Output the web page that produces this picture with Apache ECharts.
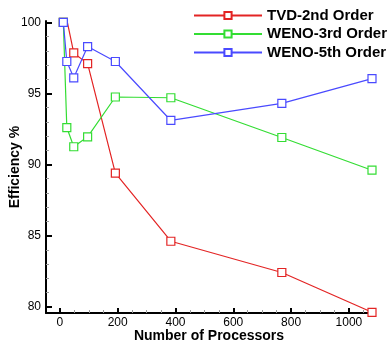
<!DOCTYPE html>
<html><head><meta charset="utf-8">
<script src="https://cdn.jsdelivr.net/npm/echarts@6/dist/echarts.min.js"></script>
<style>html,body{margin:0;padding:0;background:#fff}#c{width:392px;height:341px}</style>
</head><body><div id="c"></div>
<script>
const processors = [12, 24, 48, 96, 192, 384, 768, 1080];
const tvd2 = [100, 100.2, 97.85, 97.1, 89.4, 84.6, 82.4, 79.6];
const weno3 = [100, 92.6, 91.25, 91.95, 94.75, 94.7, 91.9, 89.6];
const weno5 = [100, 97.25, 96.1, 98.3, 97.25, 93.1, 94.3, 96.05];
const seriesNames = ['TVD-2nd Order', 'WENO-3rd Order', 'WENO-5th Order'];
const xMajor = [0, 200, 400, 600, 800, 1000];
const xMinor = [50, 100, 150, 250, 300, 350, 450, 500, 550, 650, 700, 750, 850, 900, 950, 1050];
const yMajor = [80, 85, 90, 95, 100];
const yMinor = [81, 82, 83, 84, 86, 87, 88, 89, 91, 92, 93, 94, 96, 97, 98, 99];
const colors = ['#e32424', '#33dd33', '#4a4aff'];
const font = 'Liberation Sans, Arial, sans-serif';

const chart = echarts.init(document.getElementById('c'), null, {renderer: 'canvas'});
const values = [tvd2, weno3, weno5];
const axisLine = {show: true, onZero: false, lineStyle: {color: '#000', width: 2}};
const xBase = {type: 'value', min: -48, max: 1080, splitLine: {show: false}};
const yBase = {type: 'value', min: 79.55, max: 100.1, splitLine: {show: false}};
const labelFmt = v => String(v);
chart.setOption({
  animation: false,
  grid: {left: 46, right: 20, top: 21, bottom: 28, outerBoundsMode: 'none'},
  legend: {
    data: seriesNames, orient: 'vertical', left: 188, top: 3, itemGap: 3.5,
    itemWidth: 68, itemHeight: 9,
    textStyle: {fontFamily: font, fontWeight: 'bold', fontSize: 15, color: '#000'}
  },
  xAxis: [
    Object.assign({}, xBase, {
      axisLine: axisLine,
      name: 'Number of Processors', nameLocation: 'middle', nameGap: 16, nameMoveOverlap: false,
      nameTextStyle: {fontFamily: font, fontWeight: 'bold', fontSize: 14, color: '#000'},
      axisTick: {show: true, inside: true, length: 5, lineStyle: {color: '#000', width: 2}, customValues: xMajor},
      axisLabel: {show: true, margin: 4, fontFamily: font, fontSize: 12, color: '#000', customValues: xMajor, formatter: labelFmt}
    }),
    Object.assign({}, xBase, {
      position: 'bottom', axisLine: {show: false, onZero: false},
      axisTick: {show: true, inside: true, length: 3, lineStyle: {color: '#999', width: 1}, customValues: xMinor},
      axisLabel: {show: false}
    })
  ],
  yAxis: [
    Object.assign({}, yBase, {
      axisLine: axisLine,
      name: 'Efficiency %', nameLocation: 'middle', nameGap: 24, nameRotate: 90, nameMoveOverlap: false,
      nameTextStyle: {fontFamily: font, fontWeight: 'bold', fontSize: 14, color: '#000'},
      axisTick: {show: true, inside: true, length: 6, lineStyle: {color: '#000', width: 2}, customValues: yMajor},
      axisLabel: {show: true, margin: 5, fontFamily: font, fontSize: 12, color: '#000', customValues: yMajor, formatter: labelFmt}
    }),
    Object.assign({}, yBase, {
      position: 'left', axisLine: {show: false, onZero: false},
      axisTick: {show: true, inside: true, length: 3, lineStyle: {color: '#999', width: 1}, customValues: yMinor},
      axisLabel: {show: false}
    })
  ],
  series: seriesNames.map((n, i) => ({
    name: n, type: 'line', xAxisIndex: 0, yAxisIndex: 0,
    data: processors.map((p, j) => [p, values[i][j]]),
    symbol: 'rect', symbolSize: 8, showAllSymbol: true,
    lineStyle: {color: colors[i], width: 1.2},
    itemStyle: {color: '#fff', borderColor: colors[i], borderWidth: 1.2},
    emphasis: {disabled: true}
  }))
});
</script></body></html>
